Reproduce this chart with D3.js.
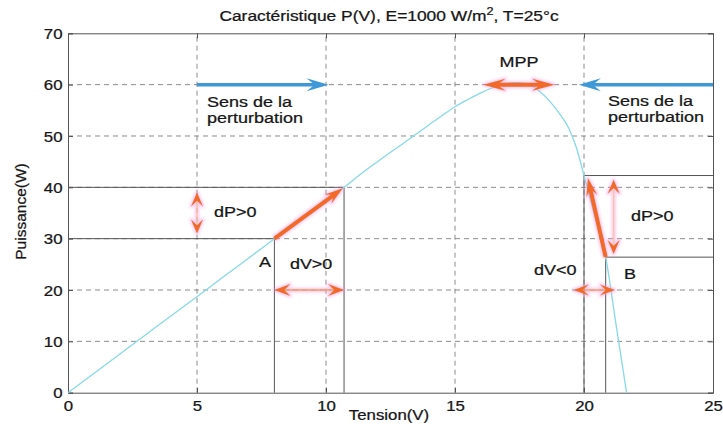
<!DOCTYPE html>
<html><head><meta charset="utf-8">
<script src="https://cdn.jsdelivr.net/npm/d3@7"></script>
<style>body{margin:0;background:#fff}svg{display:block}</style>
</head><body>
<svg id="c" width="723" height="433"></svg>
<script>
// ---- data ----
const voltage = [0,1,2,3,4,5,6,7,8,9,10,10.7,11.3,12,13,14,14.5,15,15.5,16,16.4,16.8,17.3,17.8,18.3,18.7,19.1,19.4,19.7,20,20.4,20.84,21.25,21.65];
const power   = [0,3.75,7.5,11.25,15,18.7,22.5,26.2,30,33.7,37.4,40,42.4,45,48.6,52.2,54,55.7,57.1,58.4,59.3,60,60.4,60.2,58.6,56.6,54,51.6,47.8,42.3,34.8,26.4,13,0];
const xTicks = [0,5,10,15,20,25];
const yTicks = [0,10,20,30,40,50,60,70];
const gridX = [5,10,15,20];
const gridY = [10,20,30,40,50,60];
// operating points
const pointA = [8,30], pointA2 = [10.7,40];
const pointB = [20.84,26.4], pointB2 = [20,42.3];

const svg = d3.select("#c");
const x = d3.scaleLinear().domain([0,25]).range([68,713]);
const y = d3.scaleLinear().domain([0,70]).range([392.7,33.3]);
const FONT = "'Liberation Sans', Arial, sans-serif";
const SX = 1.2;
const INK = "#161616";

// defs
const defs = svg.append("defs");
const f = defs.append("filter").attr("id","glow").attr("x","-50%").attr("y","-50%").attr("width","200%").attr("height","200%");
f.append("feGaussianBlur").attr("stdDeviation",1.6);

// grid
const grid = svg.append("g").attr("stroke","#6f6f6f").attr("stroke-width",0.8).attr("stroke-dasharray","5,4").attr("fill","none");
grid.selectAll("line.gx").data(gridX).join("line").attr("x1",d=>x(d)).attr("x2",d=>x(d)).attr("y1",y(0)).attr("y2",y(70));
grid.selectAll("line.gy").data(gridY).join("line").attr("y1",d=>y(d)).attr("y2",d=>y(d)).attr("x1",x(0)).attr("x2",x(25));

// solid guide lines
const guides = [
  [[0,pointA[1]],pointA],[[pointA[0],0],pointA],
  [[0,pointA2[1]],pointA2],[[pointA2[0],0],pointA2],
  [[pointB2[0],0],pointB2],[pointB2,[25,pointB2[1]]],
  [[pointB[0],0],pointB],[pointB,[25,pointB[1]]]
];
svg.append("g").attr("stroke","#555").attr("stroke-width",1).selectAll("line").data(guides).join("line")
  .attr("x1",d=>x(d[0][0])).attr("y1",d=>y(d[0][1])).attr("x2",d=>x(d[1][0])).attr("y2",d=>y(d[1][1]));

// axes
const ax = svg.append("g").attr("font-family",FONT);
const gB = ax.append("g").attr("transform",`translate(0,${y(0)})`).call(d3.axisBottom(x).tickValues(xTicks).tickSize(-5).tickPadding(7).tickFormat(d3.format("d")));
const gT = ax.append("g").attr("transform",`translate(0,${y(70)})`).call(d3.axisTop(x).tickValues(xTicks).tickSize(-5).tickFormat(""));
const gL = ax.append("g").attr("transform",`translate(${x(0)},0)`).call(d3.axisLeft(y).tickValues(yTicks).tickSize(-5).tickPadding(5).tickFormat(d3.format("d")));
const gR = ax.append("g").attr("transform",`translate(${x(25)},0)`).call(d3.axisRight(y).tickValues(yTicks).tickSize(-5).tickFormat(""));
[gB,gT,gL,gR].forEach(g=>{g.select(".domain").attr("stroke","#555");g.selectAll(".tick line").attr("stroke","#555");});
gB.selectAll("text").attr("font-size",14).attr("fill",INK).attr("stroke",INK).attr("stroke-width",0.25).attr("transform",`scale(${SX},1)`).attr("dy","0.71em").attr("y",8);
gL.selectAll("text").attr("font-size",14).attr("fill",INK).attr("stroke",INK).attr("stroke-width",0.25).attr("transform",`scale(${SX},1)`).attr("x",-5.5/SX).attr("dy","0.36em");

// curve
const curveData = voltage.map((v,i)=>[v,power[i]]);
svg.append("path").datum(curveData).attr("fill","none").attr("stroke","#86d9e8").attr("stroke-width",1.3)
  .attr("d",d3.line().x(d=>x(d[0])).y(d=>y(d[1])).curve(d3.curveMonotoneX));

// arrow helper
function arrow(p1,p2,o){
  const a=[x(p1[0]),y(p1[1])], b=[x(p2[0]),y(p2[1])];
  const dx=b[0]-a[0], dy=b[1]-a[1], len=Math.hypot(dx,dy);
  const u=[dx/len,dy/len];
  const L=o.hl, Wd=o.hw;
  function head(tip,dir){
    const bx=tip[0]-dir[0]*L, by=tip[1]-dir[1]*L;
    const nx=-dir[1], ny=dir[0];
    return [[tip[0],tip[1]],[bx+nx*Wd-dir[0]*2,by+ny*Wd-dir[1]*2],[tip[0]-dir[0]*L*0.7,tip[1]-dir[1]*L*0.7],[bx-nx*Wd-dir[0]*2,by-ny*Wd-dir[1]*2]];
  }
  const heads=[head(b,u)];
  if(o.both) heads.push(head(a,[-u[0],-u[1]]));
  const g=svg.append("g");
  const layers = o.glow ? [{c:o.glow,op:0.55,filt:true,hs:3},{c:o.color,op:1,filt:false,hs:0}] : [{c:o.color,op:1,filt:false,hs:0}];
  layers.forEach(l=>{
    const gg=g.append("g").attr("opacity",l.op);
    if(l.filt) gg.attr("filter","url(#glow)");
    const s0 = o.both? [a[0]+u[0]*L*0.6,a[1]+u[1]*L*0.6] : a;
    const s1 = [b[0]-u[0]*L*0.6,b[1]-u[1]*L*0.6];
    gg.append("line").attr("x1",s0[0]).attr("y1",s0[1]).attr("x2",s1[0]).attr("y2",s1[1])
      .attr("stroke",l.filt?l.c:(o.shaft||l.c)).attr("stroke-width",l.filt?(o.sw+3):o.sw);
    gg.selectAll("polygon").data(heads).join("polygon").attr("points",d=>d.map(p=>p.join(",")).join(" "))
      .attr("fill",l.c).attr("stroke",l.c).attr("stroke-width",l.hs).attr("stroke-linejoin","round");
  });
}
const OR="#f26a2a", PK="#f39ae2", BL="#3f98d8";
// perturbation direction arrows (blue)
arrow([5,60],[10.1,60],{color:BL,sw:3.5,hl:20,hw:6.5});
arrow([25,60],[19.8,60],{color:BL,sw:3.5,hl:20,hw:6.5});
// MPP
arrow([16.1,60],[18.85,60],{color:OR,sw:4,hl:20,hw:6,both:true,glow:PK});
// step arrows
arrow(pointA,[10.65,39.8],{color:OR,sw:4,hl:16,hw:5.5,glow:PK});
arrow(pointB,[20.15,41.8],{color:OR,sw:4,hl:16,hw:5.5,glow:PK});
// dP, dV arrows
arrow([5,31],[5,39],{color:OR,sw:1.2,hl:12,hw:6,both:true,glow:PK,shaft:"#f8c79a"});
arrow([8,20],[10.7,20],{color:OR,sw:1.4,hl:14,hw:6,both:true,glow:PK,shaft:"#f5a060"});
arrow([21.15,27],[21.15,41.5],{color:OR,sw:1.2,hl:12,hw:6,both:true,glow:PK,shaft:"#f8c79a"});
arrow([19.6,20],[21.2,20],{color:OR,sw:1.4,hl:13,hw:5.5,both:true,glow:PK,shaft:"#f5a060"});

// text helper
function label(px,py,str,size,anchor){
  return svg.append("text").attr("transform",`translate(${px},${py}) scale(${SX},1)`)
    .attr("font-family",FONT).attr("font-size",size).attr("fill",INK).attr("stroke",INK).attr("stroke-width",0.25)
    .attr("text-anchor",anchor||"start").text(str);
}
const anns = [
  [5.39,55.65,"Sens de la"],[5.39,52.55,"perturbation"],
  [20.93,55.8,"Sens de la"],[20.93,52.7,"perturbation"],
  [5.66,34.2,"dP>0"],[7.4,24.5,"A"],[8.6,24.1,"dV>0"],
  [21.82,33.4,"dP>0"],[21.55,22.1,"B"],[18.06,22.9,"dV<0"]
];
anns.forEach(a=>label(x(a[0]),y(a[1]),a[2],15));
label(x(17.48),y(63.4),"MPP",15,"middle");

// title
const t = svg.append("text").attr("transform",`translate(389,20.5) scale(${SX},1)`).attr("font-family",FONT)
  .attr("font-size",14.5).attr("fill",INK).attr("stroke",INK).attr("stroke-width",0.25).attr("text-anchor","middle");
t.append("tspan").text("Caractéristique P(V), E=1000 W/m");
t.append("tspan").attr("dy",-6).attr("font-size",10.5).text("2");
t.append("tspan").attr("dy",6).text(", T=25°c");

// axis titles
label(389,420,"Tension(V)",14,"middle");
svg.append("text").attr("transform","translate(26,211.5) rotate(-90)").attr("font-family",FONT)
  .attr("font-size",15.5).attr("fill",INK).attr("stroke",INK).attr("stroke-width",0.25).attr("text-anchor","middle").text("Puissance(W)");
</script>
</body></html>
